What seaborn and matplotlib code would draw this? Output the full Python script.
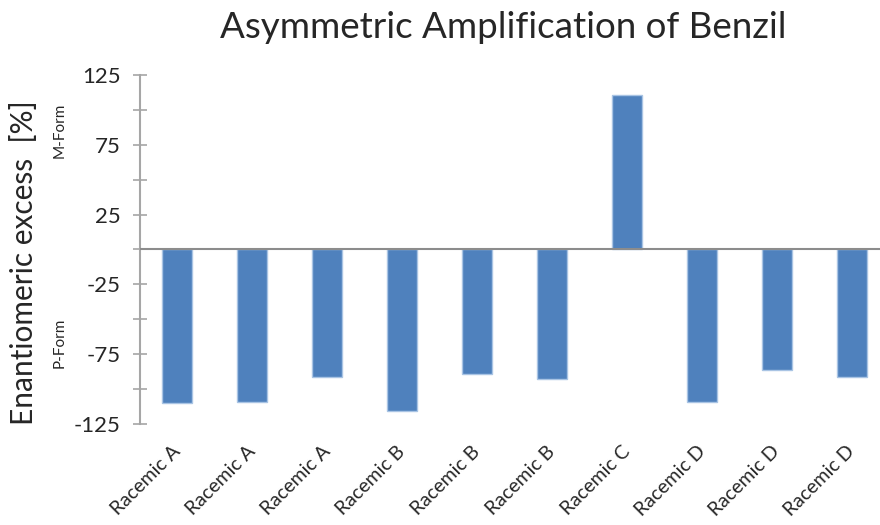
import matplotlib
matplotlib.use("Agg")
import matplotlib.pyplot as plt
import numpy as np
import pandas as pd
import seaborn as sns

# Enantiomeric excess per crystallisation run (negative = P-form, positive = M-form)
samples = ["Racemic A", "Racemic A", "Racemic A", "Racemic B", "Racemic B",
           "Racemic B", "Racemic C", "Racemic D", "Racemic D", "Racemic D"]
ee_values = [-110, -109.5, -91.5, -115.5, -89, -93, 110.5, -109.5, -86, -91.5]
y_ticks = [-125, -100, -75, -50, -25, 0, 25, 50, 75, 100, 125]
y_tick_labels = ["-125", "", "-75", "", "-25", "", "25", "", "75", "", "125"]

df = pd.DataFrame({"run": np.arange(len(samples)), "ee": ee_values})

sns.set_theme(style="white")
plt.rcParams["font.family"] = ["Lato", "DejaVu Sans"]

fig = plt.figure(figsize=(8.8, 5.25), dpi=100)
ax = fig.add_axes([0.159, 0.1924, 0.852, 0.665])

sns.barplot(data=df, x="run", y="ee", color="#4F81BD", saturation=1,
            width=0.4, edgecolor="#A9C4E4", linewidth=1.0, ax=ax, errorbar=None)

ax.set_ylim(-125, 125)
ax.set_xlim(-0.5, len(samples) - 0.5)
ax.set_yticks(y_ticks)
ax.set_yticklabels(y_tick_labels, fontsize=16)
ax.set_xticks(np.arange(len(samples)))
ax.set_xticklabels(samples, rotation=45, ha="right", va="center",
                   rotation_mode="anchor", fontsize=14)

for side in ["top", "right", "bottom"]:
    ax.spines[side].set_visible(False)
ax.spines["left"].set_color("#A6A6A6")
ax.spines["left"].set_linewidth(1.5)
ax.tick_params(axis="y", direction="inout", length=10, width=1.2,
               color="#A6A6A6", pad=9, left=True)
ax.tick_params(axis="x", length=0, pad=18)
ax.axhline(0, color="#8C8C8C", linewidth=1.5, zorder=3)

ax.set_xlabel("")
ax.set_ylabel("")
fig.text(0.027, 0.50, "Enantiomeric excess  [%]", rotation=90,
         ha="center", va="center", fontsize=21.5)
fig.text(0.068, 0.752, "M-Form", rotation=90, ha="center", va="center",
         fontsize=11)
fig.text(0.068, 0.347, "P-Form", rotation=90, ha="center", va="center",
         fontsize=11)
fig.text(0.572, 0.948, "Asymmetric Amplification of Benzil", ha="center",
         va="center", fontsize=26.5)

fig.savefig("out.png", dpi=100)
